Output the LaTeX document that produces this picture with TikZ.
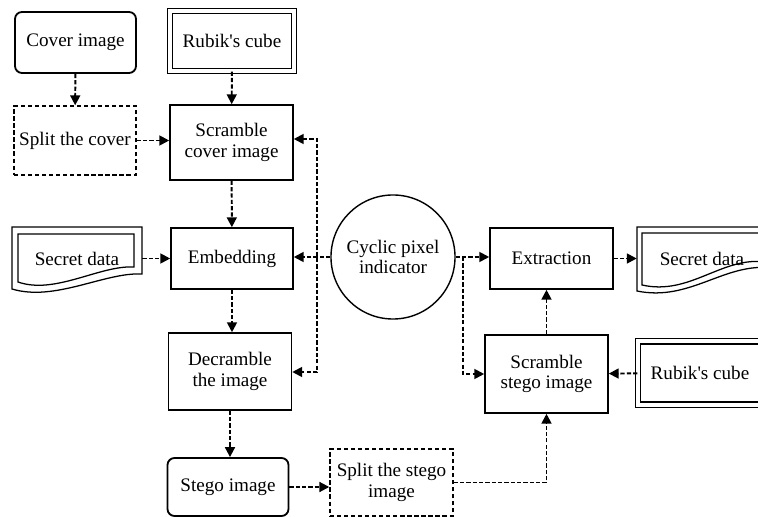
\documentclass[tikz,border=0pt]{standalone}
\usepackage{fontspec}
\setmainfont{LiberationSerif-Regular.ttf}
\usetikzlibrary{arrows.meta,shapes.geometric}

\begin{document}
\begin{tikzpicture}[
    x=0.025cm, y=-0.025cm,
    font=\rmfamily\fontsize{13.6}{14.6}\selectfont,
    box/.style={draw, rectangle, line width=1.1pt, minimum width=3.075cm, inner sep=2pt, align=center},
    roundbox/.style={box, rounded corners=5pt, line width=1.3pt},
    splitbox/.style={box, densely dashed, line width=1pt},
    cubebox/.style={draw, rectangle, double, double distance=3pt, line width=0.9pt, minimum width=3.1cm, inner sep=2pt},
    docbox/.style={rectangle, minimum width=3.25cm, minimum height=1.6cm, inner sep=0pt},
    docline/.style={line width=0.9pt},
    pixel/.style={circle, draw, line width=1pt, minimum size=3.1cm, inner sep=0pt, align=center},
    link/.style={line width=1.4pt, dash pattern=on 3pt off 1.5pt},
    >={Triangle[length=7pt,width=7pt]}
]
    \useasboundingbox (0,0) rectangle (758,517);

    % Embedding side
    \node[roundbox, minimum width=3.025cm, minimum height=1.525cm] (cover) at (75.5,42.5) {Cover image};
    \node[cubebox, minimum height=1.5cm] (rubikA) at (232,41) {Rubik\textquotesingle s cube};
    \node[splitbox, minimum width=3.05cm, minimum height=1.725cm] (splitcover) at (75,140.5) {Split the cover};
    \node[box, minimum height=1.875cm] (scramcov) at (231.5,142.5) {Scramble\\cover image};
    \node[box, minimum width=3.05cm, minimum height=1.525cm] (embed) at (232,258.5) {Embedding};
    \node[box, minimum height=1.925cm] (decram) at (230,371.5) {Decramble\\the image};
    \node[roundbox, minimum width=3.025cm, minimum height=1.45cm] (stego) at (228,487) {Stego image};
    \node[splitbox, minimum height=1.675cm] (splitstego) at (391.5,482.5) {Split the stego\\image};

    % Secret data (document shape)
    \node[docbox] (secretL) at (77,258.5) {Secret data};
    \draw[docline] (12,227) -- (142,227) -- (142,274) .. controls (105,272) and (55,302) .. (12,289) -- cycle;
    \draw[docline] (18,234) -- (134,234) -- (134,267) .. controls (100,265) and (55,295) .. (18,282) -- cycle;

    % Indicator
    \node[pixel] (cpi) at (393,257) {Cyclic pixel\\indicator};

    % Extraction side
    \node[box, minimum height=1.525cm] (extract) at (551.5,258.5) {Extraction};
    \node[box, minimum height=1.95cm] (scramst) at (546.5,374) {Scramble\\stego image};
    \node[cubebox, minimum height=1.59cm] (rubikR) at (700,373) {Rubik\textquotesingle s cube};
    \node[docbox] (secretR) at (702,258.5) {Secret data};
    \draw[docline] (637,227) -- (772,227) -- (772,268) .. controls (725,262) and (690,302) .. (637,291) -- cycle;
    \draw[docline] (642,233) -- (766,233) -- (766,262) .. controls (722,256) and (690,296) .. (642,285) -- cycle;

    % Junction points
    \coordinate (busT) at (317,139);
    \coordinate (busB) at (317,372);
    \coordinate (brR) at (463,257);

    % Arrows
    \draw[link,->] (cover) -- (splitcover);
    \draw[link,->] (rubikA) -- (scramcov);
    \draw[link,->] (splitcover) -- (splitcover -| scramcov.west);
    \draw[link,->] (scramcov) -- (embed);
    \draw[link,->] (secretL) -- (embed);
    \draw[link,->] (embed) -- (decram.north -| embed);
    \draw[link,->] (decram) -- (stego.north -| decram);
    \draw[link,->] (stego) -- (stego -| splitstego.west);
    \draw[link,->] (splitstego) -| (scramst);
    \draw[link,<->] (scramcov.east |- busT) -- (busT) -- (busB) -- (decram.east |- busB);
    \draw[link,->] (cpi) -- (cpi -| embed.east);
    \draw[link,->] (cpi) -- (cpi -| extract.west);
    \draw[link,->] (brR) |- (scramst.west);
    \draw[link,->] (scramst.north) -- (scramst.north |- extract.south);
    \draw[link,->] (extract) -- (secretR);
    \draw[link,->] (rubikR) -- (scramst);
\end{tikzpicture}
\end{document}
